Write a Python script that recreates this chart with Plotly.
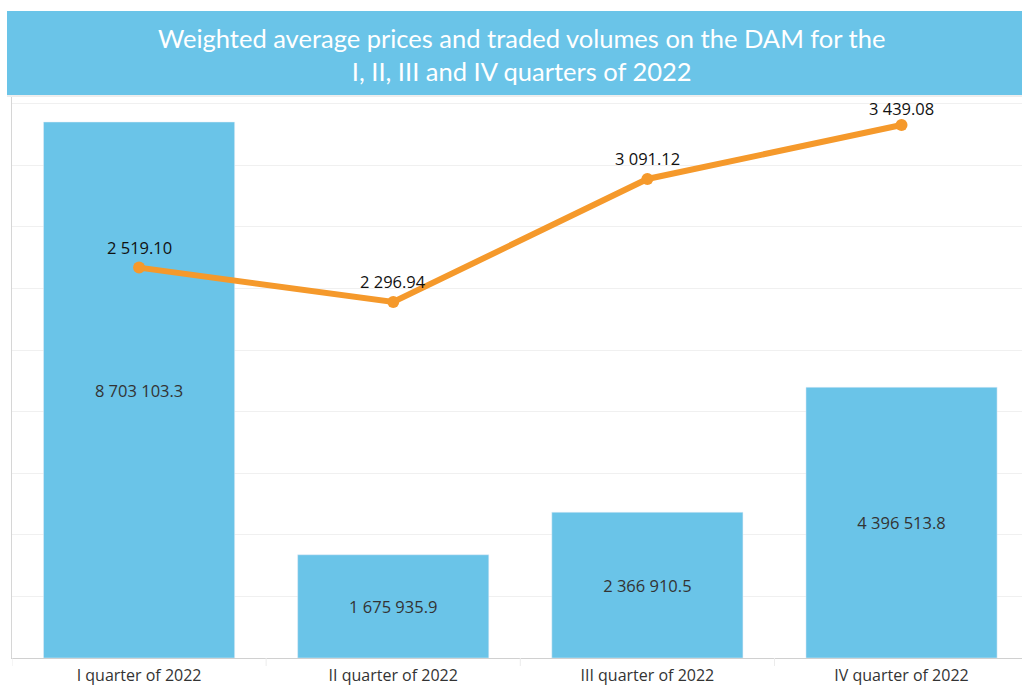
import plotly.graph_objects as go

categories = ["I quarter of 2022", "II quarter of 2022", "III quarter of 2022", "IV quarter of 2022"]
volumes = [8703103.3, 1675935.9, 2366910.5, 4396513.8]
prices = [2519.10, 2296.94, 3091.12, 3439.08]
title_lines = ["Weighted average prices and traded volumes on the DAM for the",
               "I, II, III and IV quarters of 2022"]

BLUE = "#6AC4E8"
ORANGE = "#F5992B"
W, H = 1022, 687
ML, MR, MT, MB = 12, 0, 97, 29
PW, PH = W - ML - MR, H - MT - MB

def px_x(px):
    return (px - ML) / PW

def px_y(py):
    return (H - MB - py) / PH

fig = go.Figure()
fig.add_trace(go.Bar(
    x=list(range(4)), y=volumes, marker_color=BLUE, width=0.752,
    texttemplate="%{y:,.1f}", textposition="inside", insidetextanchor="middle",
    textfont=dict(family="Open Sans", size=16.5, color="#333333"),
    hoverinfo="skip", showlegend=False,
))
fig.add_trace(go.Scatter(
    x=list(range(4)), y=prices, yaxis="y2", mode="lines+markers",
    line=dict(color=ORANGE, width=6), marker=dict(color=ORANGE, size=12),
    hoverinfo="skip", showlegend=False, cliponaxis=False,
))
for i, p in enumerate(prices):
    # the top label sits a little closer to its point to stay inside the plot
    shift = 3 if i == len(prices) - 1 else 7
    fig.add_annotation(x=i, y=p, xref="x", yref="y2", text=f"{p:,.2f}".replace(",", " "),
                       showarrow=False, yanchor="bottom", yshift=shift,
                       font=dict(family="Open Sans", size=16.5, color="#111111"))

y1max = 9.109e6
fig.update_layout(
    width=W, height=H, margin=dict(l=ML, r=MR, t=MT, b=MB),
    paper_bgcolor="white", plot_bgcolor="white",
    separators=". ",
    xaxis=dict(range=[-0.5, 3.474], tickvals=list(range(4)), ticktext=categories,
               showgrid=False, zeroline=False, showline=True, linecolor="#d0d0d0",
               ticks="", ticklabelstandoff=3, automargin=False,
               tickfont=dict(family="Open Sans", size=16, color="#333333")),
    yaxis=dict(range=[0, y1max], dtick=1e6, showticklabels=False, showgrid=True,
               gridcolor="#f0f0f0", gridwidth=1, zeroline=False, showline=True,
               linecolor="#d6d6d6", ticks="", automargin=False),
    yaxis2=dict(range=[0, y1max * 3.974e-4], overlaying="y", side="right",
                showticklabels=False, showgrid=False, zeroline=False, showline=False,
                automargin=False),
    bargap=0.25,
)

# category dividers below the axis
for b in [-0.5, 0.5, 1.5, 2.5]:
    fig.add_shape(type="line", xref="x", yref="paper", x0=b, x1=b,
                  y0=0, y1=px_y(666), line=dict(color="#ececec", width=1))

# title banner
fig.add_shape(type="rect", xref="paper", yref="paper",
              x0=px_x(7), x1=px_x(1030), y0=px_y(95), y1=px_y(11),
              fillcolor=BLUE, line=dict(width=0), layer="above")
fig.add_shape(type="line", xref="paper", yref="paper",
              x0=px_x(7), x1=px_x(1030), y0=px_y(96), y1=px_y(96),
              line=dict(color="#dcdcdc", width=1))
fig.add_annotation(xref="paper", yref="paper", x=px_x(521), y=px_y(55),
                   text="<br>".join(title_lines), showarrow=False,
                   font=dict(family="Lato", size=25.5, color="white"),
                   align="center", xanchor="center", yanchor="middle")

fig.write_html("out.html", config={"displayModeBar": False},
               post_script="document.body.style.margin='0';")
